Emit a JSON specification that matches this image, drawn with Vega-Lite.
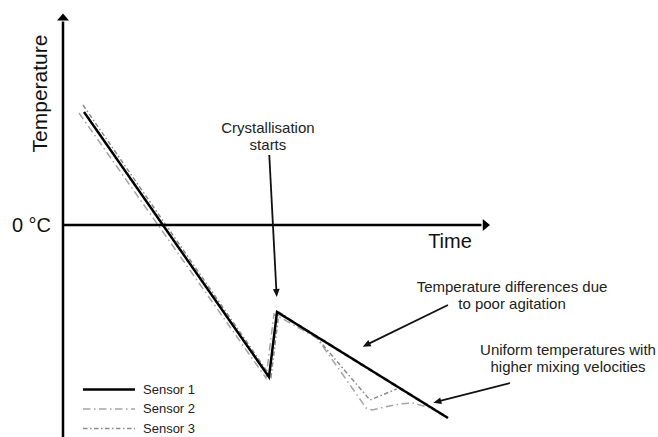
{
  "$schema": "https://vega.github.io/schema/vega-lite/v6.json",
  "width": 658,
  "height": 437,
  "autosize": {"type": "none"},
  "padding": 0,
  "background": "white",
  "config": {"view": {"stroke": null}},
  "datasets": {
    "sensors": [
      {"sensor": "Sensor 2", "t": 3.75, "T": 52.83},
      {"sensor": "Sensor 2", "t": 47.54, "T": -72.17},
      {"sensor": "Sensor 2", "t": 49.41, "T": -41.98},
      {"sensor": "Sensor 2", "t": 59.48, "T": -53.3},
      {"sensor": "Sensor 2", "t": 71.0, "T": -86.32},
      {"sensor": "Sensor 2", "t": 72.37, "T": -87.26},
      {"sensor": "Sensor 2", "t": 75.41, "T": -85.85},
      {"sensor": "Sensor 2", "t": 78.92, "T": -84.43},
      {"sensor": "Sensor 2", "t": 81.97, "T": -83.96},
      {"sensor": "Sensor 2", "t": 85.25, "T": -85.85},
      {"sensor": "Sensor 2", "t": 87.12, "T": -87.26},
      {"sensor": "Sensor 3", "t": 4.68, "T": 56.6},
      {"sensor": "Sensor 3", "t": 48.71, "T": -71.7},
      {"sensor": "Sensor 3", "t": 50.59, "T": -41.04},
      {"sensor": "Sensor 3", "t": 59.48, "T": -53.3},
      {"sensor": "Sensor 3", "t": 71.9, "T": -82.55},
      {"sensor": "Sensor 3", "t": 78.15, "T": -77.36},
      {"sensor": "Sensor 1", "t": 4.92, "T": 53.3},
      {"sensor": "Sensor 1", "t": 48.24, "T": -71.7},
      {"sensor": "Sensor 1", "t": 50.12, "T": -41.04},
      {"sensor": "Sensor 1", "t": 90.16, "T": -91.04}
    ],
    "axes": [
      {"t": 0, "T": -100, "t2": 0, "T2": 96},
      {"t": 0, "T": 0, "t2": 98, "T2": 0}
    ],
    "axisHeads": [
      {"t": 0, "T": 98.11, "heading": 0},
      {"t": 99.15, "T": 0, "heading": 90}
    ],
    "arrows": [
      {"t": 48.31, "T": 33.02, "t2": 50.0, "T2": -32.08},
      {"t": 90.16, "T": -37.74, "t2": 71.03, "T2": -56.56},
      {"t": 104.68, "T": -74.53, "t2": 87.63, "T2": -83.35}
    ],
    "arrowHeads": [
      {"t": 50.0, "T": -32.08, "heading": 177},
      {"t": 71.03, "T": -56.56, "heading": 243.4},
      {"t": 87.63, "T": -83.35, "heading": 255.4}
    ],
    "notes": [
      {"t": 48.0, "T": 45.75, "text": "Crystallisation\nstarts"},
      {"t": 105.15, "T": -29.25, "text": "Temperature differences due\nto poor agitation"},
      {"t": 118.27, "T": -58.96, "text": "Uniform temperatures with\nhigher mixing velocities"}
    ],
    "axisLabels": [
      {"t": 90.63, "T": -8.02, "text": "Time"},
      {"t": -7.38, "T": -0.47, "text": "0 °C"}
    ],
    "yLabel": [
      {"t": -5.15, "T": 62.03, "text": "Temperature"}
    ]
  },
  "encoding": {
    "x": {"field": "t", "type": "quantitative", "scale": {"domain": [-14.754, 139.344], "nice": false, "zero": false}, "axis": null},
    "y": {"field": "T", "type": "quantitative", "scale": {"domain": [-100, 106.13], "nice": false, "zero": false}, "axis": null}
  },
  "layer": [
    {
      "data": {"name": "sensors"},
      "mark": {"type": "line", "strokeCap": "butt", "strokeJoin": "miter"},
      "encoding": {
        "color": {
          "field": "sensor", "type": "nominal",
          "scale": {"domain": ["Sensor 1", "Sensor 2", "Sensor 3"], "range": ["#000000", "#a5a5a5", "#8c8c8c"]},
          "legend": {"title": null, "orient": "none", "legendX": 102.5, "legendY": 383, "symbolType": "M-5,0H5", "symbolSize": 108, "labelFont": "Liberation Sans", "labelFontSize": 13, "labelColor": "#222222", "rowPadding": 5.5, "labelOffset": 27.5, "padding": 0}
        },
        "strokeDash": {
          "field": "sensor", "type": "nominal",
          "scale": {"domain": ["Sensor 1", "Sensor 2", "Sensor 3"], "range": [[1, 0], [7.5, 3.5, 1.5, 3.5], [4.5, 2.5, 1.5, 2.5]]},
          "legend": {"title": null, "orient": "none", "legendX": 102.5, "legendY": 383, "symbolType": "M-5,0H5", "symbolSize": 108, "labelFont": "Liberation Sans", "labelFontSize": 13, "labelColor": "#222222", "rowPadding": 5.5, "labelOffset": 27.5, "padding": 0}
        },
        "strokeWidth": {
          "field": "sensor", "type": "nominal",
          "scale": {"type": "ordinal", "domain": ["Sensor 1", "Sensor 2", "Sensor 3"], "range": [2.5, 1.5, 1.5]},
          "legend": {"title": null, "orient": "none", "legendX": 102.5, "legendY": 383, "symbolType": "M-5,0H5", "symbolSize": 108, "labelFont": "Liberation Sans", "labelFontSize": 13, "labelColor": "#222222", "rowPadding": 5.5, "labelOffset": 27.5, "padding": 0}
        }
      }
    },
    {
      "data": {"name": "axes"},
      "mark": {"type": "rule", "color": "#000000", "strokeWidth": 2.5},
      "encoding": {"x2": {"field": "t2"}, "y2": {"field": "T2"}}
    },
    {
      "data": {"name": "axisHeads"},
      "mark": {"type": "point", "shape": "M0,-0.6L1,0.6L-1,0.6Z", "filled": true, "color": "#000000", "opacity": 1, "size": 144},
      "encoding": {"angle": {"field": "heading", "type": "quantitative", "scale": null}}
    },
    {
      "data": {"name": "arrows"},
      "mark": {"type": "rule", "color": "#111111", "strokeWidth": 1.8},
      "encoding": {"x2": {"field": "t2"}, "y2": {"field": "T2"}}
    },
    {
      "data": {"name": "arrowHeads"},
      "mark": {"type": "point", "shape": "M0,-1L0.85,1L-0.85,1Z", "filled": true, "color": "#111111", "opacity": 1, "size": 64},
      "encoding": {"angle": {"field": "heading", "type": "quantitative", "scale": null}}
    },
    {
      "data": {"name": "notes"},
      "mark": {"type": "text", "font": "Liberation Sans", "fontSize": 15, "lineHeight": 17, "lineBreak": "\n", "align": "center", "baseline": "middle", "color": "#222222"},
      "encoding": {"text": {"field": "text", "type": "nominal"}}
    },
    {
      "data": {"name": "axisLabels"},
      "mark": {"type": "text", "font": "Liberation Sans", "fontSize": 20, "align": "center", "baseline": "middle", "color": "#111111"},
      "encoding": {"text": {"field": "text", "type": "nominal"}}
    },
    {
      "data": {"name": "yLabel"},
      "mark": {"type": "text", "font": "Liberation Sans", "fontSize": 21, "angle": 270, "align": "center", "baseline": "middle", "color": "#111111"},
      "encoding": {"text": {"field": "text", "type": "nominal"}}
    }
  ]
}
